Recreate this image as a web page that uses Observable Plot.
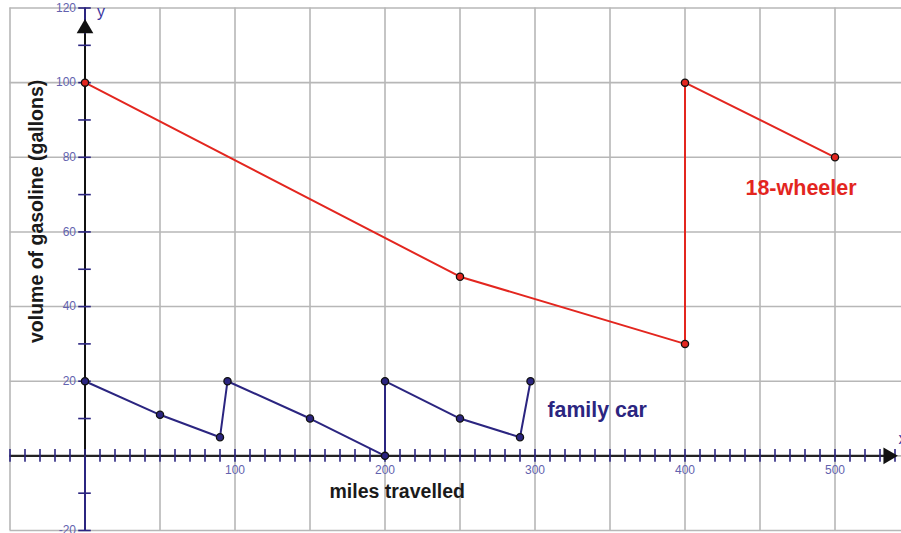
<!DOCTYPE html>
<html>
<head>
<meta charset="utf-8">
<script src="https://cdn.jsdelivr.net/npm/d3@7"></script>
<script src="https://cdn.jsdelivr.net/npm/@observablehq/plot@0.6"></script>
<style>
  html, body { margin: 0; padding: 0; background: #fff; }
  svg { display: block; font-family: "Liberation Sans", Arial, sans-serif; }
</style>
</head>
<body>
<div id="chart"></div>
<script>
// 18-wheeler series
const truckMiles = [0, 250, 400, 400, 500];
const truckGallons = [100, 48, 30, 100, 80];
// family car series
const carMiles = [0, 50, 90, 95, 150, 200, 200, 250, 290, 297];
const carGallons = [20, 11, 5, 20, 10, 0, 20, 10, 5, 20];
// tick labels
const xTickLabels = [100, 200, 300, 400, 500];
const yTickLabels = [120, 100, 80, 60, 40, 20, -20];
// grid and minor ticks
const gridX = d3.range(-50, 551, 50);
const gridY = d3.range(-20, 121, 20);
const xMinor = d3.range(-50, 551, 10);
const yMinor = d3.range(-20, 121, 10);
// text labels
const seriesNames = ["18-wheeler", "family car"];
const xTitle = "miles travelled";
const yTitle = "volume of gasoline (gallons)";

const truck = truckMiles.map((m, i) => ({m, g: truckGallons[i]}));
const car = carMiles.map((m, i) => ({m, g: carGallons[i]}));

const RED = "#e3261f";
const NAVY = "#2b2580";
const GRID = "#b7b7b7";
const TICKTXT = "#6262ae";

const chart = Plot.plot({
  width: 901,
  height: 533,
  margin: 0,
  style: {background: "#fff", fontFamily: "'Liberation Sans', Arial, sans-serif"},
  x: {domain: [-50, 550], range: [9.5, 909.5], axis: null},
  y: {domain: [-20, 120], range: [530, 7.5], axis: null},
  marks: [
    // grid
    Plot.ruleX(gridX, {x: d => d, y1: -20, y2: 120, stroke: GRID, strokeWidth: 1.6}),
    Plot.ruleY(gridY, {y: d => d, x1: -50, x2: 560, stroke: GRID, strokeWidth: 1.6}),
    // y axis (navy full, black positive part)
    Plot.ruleX([0], {x: d => d, y1: -20, y2: 120, stroke: NAVY, strokeWidth: 2}),
    Plot.ruleX([0], {x: d => d, y1: 0, y2: 113, stroke: "#111", strokeWidth: 2}),
    // x axis
    Plot.ruleY([0], {y: d => d, x1: -50, x2: 533, stroke: "#222", strokeWidth: 2.2}),
    // minor ticks
    Plot.ruleX(xMinor, {x: d => d, y1: -1.7, y2: 1.7, stroke: NAVY, strokeWidth: 1.6}),
    Plot.ruleY(yMinor.filter(d => d !== 0), {y: d => d, x1: -4.2, x2: 4.2, stroke: NAVY, strokeWidth: 1.6}),
    // arrowheads
    Plot.dot([0], {x: 535.5, y: 0, symbol: "triangle", rotate: 90, r: 6.2, fill: "#111", stroke: "none"}),
    Plot.dot([0], {x: 0, y: 114.5, symbol: "triangle", r: 6.2, fill: "#111", stroke: "none"}),
    // tick labels
    Plot.text(xTickLabels, {x: d => d, y: 0, dy: 14, text: d => String(d), fill: TICKTXT, fontSize: 12}),
    Plot.text(yTickLabels, {x: 0, y: d => d, dx: -9, textAnchor: "end", text: d => String(d), fill: TICKTXT, fontSize: 12}),
    Plot.text(["y"], {x: 0, y: 120, dx: 16, dy: 4, text: d => d, fill: "#3a36a0", fontSize: 16}),
    Plot.text(["x"], {x: 545, y: 0, dx: 0, dy: -17, text: d => d, fill: "#3a36a0", fontSize: 16}),
    // series lines
    Plot.line(truck, {x: "m", y: "g", stroke: RED, strokeWidth: 2}),
    Plot.line(car, {x: "m", y: "g", stroke: NAVY, strokeWidth: 2}),
    Plot.dot(truck, {x: "m", y: "g", r: 3.6, fill: RED, stroke: "#111", strokeWidth: 1.3}),
    Plot.dot(car, {x: "m", y: "g", r: 3.6, fill: NAVY, stroke: "#111", strokeWidth: 1.3}),
    // labels
    Plot.text([seriesNames[0]], {x: 440.3, y: 69.8, text: d => d, textAnchor: "start", lineAnchor: "bottom", fill: RED, fontWeight: "bold", fontSize: 21.5}),
    Plot.text([seriesNames[1]], {x: 308.3, y: 10.3, text: d => d, textAnchor: "start", lineAnchor: "bottom", fill: NAVY, fontWeight: "bold", fontSize: 21.3}),
    Plot.text([xTitle], {x: 163, y: -11.4, text: d => d, textAnchor: "start", lineAnchor: "bottom", fill: "#1a1a1a", fontWeight: "bold", fontSize: 19.5}),
    Plot.text([yTitle], {x: -27.7, y: 65.5, text: d => d, rotate: -90, textAnchor: "middle", lineAnchor: "bottom", fill: "#1a1a1a", fontWeight: "bold", fontSize: 19.5})
  ]
});
document.getElementById("chart").appendChild(chart);
</script>
</body>
</html>
